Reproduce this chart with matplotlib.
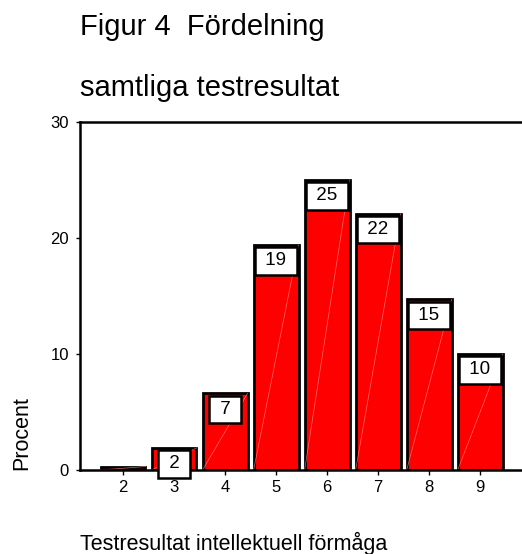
import numpy as np
import matplotlib
matplotlib.use("Agg")
import matplotlib.pyplot as plt

plt.rcParams['font.family'] = ['Liberation Sans', 'DejaVu Sans']

# Data
scores = [2, 3, 4, 5, 6, 7, 8, 9]
percent = [0.3, 1.9, 6.6, 19.4, 25.0, 22.1, 14.7, 10.0]
bar_labels = ["", "2", "7", "19", "25", "22", "15", "10"]
yticks = [0, 10, 20, 30]

fig = plt.figure(figsize=(5.22, 5.54), dpi=100)
ax = fig.add_axes([80 / 522, 1 - 470 / 554, 1 - 80 / 522, (470 - 122) / 554])

width = 0.88
bars = ax.bar(scores, percent, width=width, color='#ff0000',
              edgecolor='black', linewidth=2.0, zorder=2)

# faint diagonal streak seen in each bar
for x, v in zip(scores, percent):
    ax.plot([x - width / 2, x + width / 2], [0, v], color='#ff9a9a',
            lw=0.5, alpha=0.7, zorder=2.5)

for x, v, lab in zip(scores, percent, bar_labels):
    if not lab:
        continue
    ax.annotate(" " + lab + " ", xy=(x, v), xytext=(0, -11.4),
                textcoords='offset points', ha='center', va='center',
                fontsize=13.5, zorder=4,
                bbox=dict(boxstyle='square,pad=0.28', fc='white',
                          ec='black', lw=1.8))

ax.set_xlim(1.157, 9.82)
ax.set_ylim(0, 30)
ax.set_xticks(scores)
ax.set_yticks(yticks)
ax.tick_params(axis='x', length=3.5, width=1.0, pad=3.5, labelsize=12)
ax.tick_params(axis='y', length=3, width=1.0, pad=5, labelsize=12)

ax.spines['right'].set_visible(False)
for s in ['left', 'top', 'bottom']:
    ax.spines[s].set_linewidth(1.8)

fig.text(80 / 522, 1 - 35 / 554, "Figur 4  Fördelning", fontsize=21,
         va='baseline', ha='left')
fig.text(80 / 522, 1 - 96 / 554, "samtliga testresultat", fontsize=21,
         va='baseline', ha='left')
fig.text(80 / 522, 1 - 550 / 554, "Testresultat intellektuell förmåga",
         fontsize=15.5, va='baseline', ha='left')
fig.text(32 / 522, 1 - 470 / 554, "Procent", fontsize=15.5, rotation=90,
         ha='right', va='bottom')

fig.savefig("out.png", dpi=100)
